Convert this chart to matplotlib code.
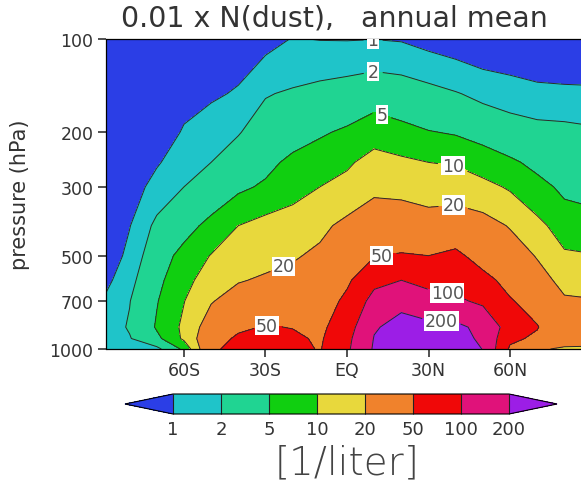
import numpy as np
import matplotlib
matplotlib.use('Agg')
import matplotlib.pyplot as plt
from matplotlib.colors import ListedColormap, BoundaryNorm
from matplotlib.ticker import NullLocator

lats = [-88.5, -80, -70, -60, -50, -40, -30, -20, -10, 0, 10, 20, 30, 40, 50, 60, 70, 80, 88.5]
pres = [100, 150, 200, 250, 300, 400, 500, 600, 700, 850, 925, 1000]

# 0.01 x N(dust) in 1/liter, one list per pressure level, south -> north
n100 = [.15, .2, .45, .75, .75, .8, .8, 1.03, .98, .97, .99, .95, .8, .7, .6, .55, .5, .48, .47]
n150 = [.2, .28, .6, .85, .93, 1.05, 1.9, 2.2, 2.6, 3.0, 3.6, 3.2, 2.6, 2.1, 1.65, 1.45, 1.25, 1.2, 1.18]
n200 = [.25, .4, .75, 1.05, 1.3, 1.9, 3.0, 3.8, 4.6, 5.6, 7.5, 6.2, 5.2, 4.7, 3.8, 2.9, 2.6, 2.5, 2.3]
n250 = [.3, .55, .93, 1.45, 2.0, 3.1, 4.2, 5.8, 7.2, 9, 13, 11.5, 10, 9.5, 7.5, 5.7, 4.1, 3.2, 3.0]
n300 = [.35, .7, 1.3, 2.0, 2.9, 4.4, 5.5, 7.8, 10, 12.5, 17.5, 16.5, 15, 14, 12, 9.3, 6.3, 4.3, 4.0]
n400 = [.45, .97, 2.4, 3.7, 6.3, 10, 13, 14, 17, 24, 30, 31, 27, 32, 27, 19, 12, 7.3, 6.6]
n500 = [.6, 1.25, 3.3, 6.5, 10.3, 15, 16, 18.5, 23, 32, 49, 53, 50, 58, 38, 30, 19, 11, 10.5]
n600 = [.85, 1.6, 4.1, 8.5, 13, 19, 22, 25, 29, 45, 85, 100, 85, 82, 62, 40, 27, 16, 15.5]
n700 = [1.15, 1.95, 4.8, 9.8, 19, 28, 30, 34, 35, 58, 125, 175, 125, 110, 90, 53, 37, 22, 21]
n850 = [1.4, 2.15, 5.4, 11.5, 30, 45, 52, 49, 43, 75, 190, 240, 240, 235, 165, 75, 52, 27, 26]
n925 = [1.5, 1.9, 4.2, 11.3, 38, 55, 62, 56, 46, 85, 205, 260, 255, 250, 180, 58, 44, 24, 23]
n1000 = [1.5, 1.7, 1.6, 6, 46, 58, 65, 60, 48, 90, 215, 270, 260, 255, 198, 45, 21, 19, 19]

levels = [1, 2, 5, 10, 20, 50, 100, 200]
xticks = [-60, -30, 0, 30, 60]
xlabels = ['60S', '30S', 'EQ', '30N', '60N']
yticks = [100, 200, 300, 500, 700, 1000]

colors = ['#2b3ee6', '#1fc4c9', '#20d492', '#10cf10', '#e8d83c',
          '#f0822c', '#f00808', '#e0127a', '#9c1ee6']

field = np.array([n100, n150, n200, n250, n300, n400, n500, n600,
                  n700, n850, n925, n1000])
logf = np.log10(field)
loglev = np.log10(levels)

cmap = ListedColormap(colors[1:-1])
cmap.set_under(colors[0])
cmap.set_over(colors[-1])
lnorm = BoundaryNorm(loglev, cmap.N)

fig = plt.figure(figsize=(5.81, 4.81), dpi=100)
ax = fig.add_axes([106.5 / 581, 131 / 481, 481 / 581, 310 / 481])

ax.contourf(lats, pres, logf, levels=loglev, cmap=cmap, norm=lnorm, extend='both')
cs = ax.contour(lats, pres, logf, levels=loglev, colors='#2a2a2a', linewidths=0.7)

# label spots (lat, hPa), roughly where the reference puts them
spots = [(9.6, 102), (9.6, 120), (13, 164), (39, 253), (39, 326), (-21, 574),
         (12, 466), (-28, 787), (39, 607), (35, 803)]
fmt = {lv: str(l) for lv, l in zip(cs.levels, levels)}
labs = ax.clabel(cs, fmt=fmt, manual=spots, inline=True, fontsize=12.5,
                 colors='#555555', inline_spacing=4)
for t in labs:
    t.set_rotation(0)
    t.set_bbox(dict(facecolor='white', edgecolor='none', pad=0.5))

ax.set_yscale('log')
ax.set_ylim(1000, 100)
ax.set_xlim(-88.5, 88.5)
ax.yaxis.set_minor_locator(NullLocator())
ax.set_yticks(yticks)
ax.set_yticklabels([str(v) for v in yticks])
ax.set_xticks(xticks)
ax.set_xticklabels(xlabels)
ax.tick_params(axis='both', labelsize=12.5, colors='#333333', length=6, width=1.2)
ax.tick_params(axis='x', pad=3)
for s in ax.spines.values():
    s.set_linewidth(0.9)
ax.set_ylabel('pressure (hPa)', fontsize=15, color='#333333', labelpad=14)

fig.text(334 / 581, 1 - 18 / 481, '0.01 x N(dust),   annual mean', ha='center', va='center',
         fontsize=20.5, color='#333333')

# colour bar with triangle ends
cax = fig.add_axes([125 / 581, 66 / 481, 432 / 581, 20 / 481])
sm = plt.cm.ScalarMappable(cmap=cmap, norm=BoundaryNorm(levels, cmap.N))
cb = fig.colorbar(sm, cax=cax, orientation='horizontal', extend='both',
                  extendfrac='auto', drawedges=True, ticks=levels)
cb.ax.set_xticklabels([str(l) for l in levels])
cb.ax.tick_params(length=0, labelsize=13, colors='#333333', pad=4)
cb.outline.set_linewidth(0.8)
cb.dividers.set_linewidth(0.8)
cb.dividers.set_color('#222222')

fig.text(347 / 581, 1 - 463 / 481, '[1/liter]', ha='center', va='center',
         fontsize=28, color='#444444', fontweight='light')

fig.savefig('out.png', dpi=100)
